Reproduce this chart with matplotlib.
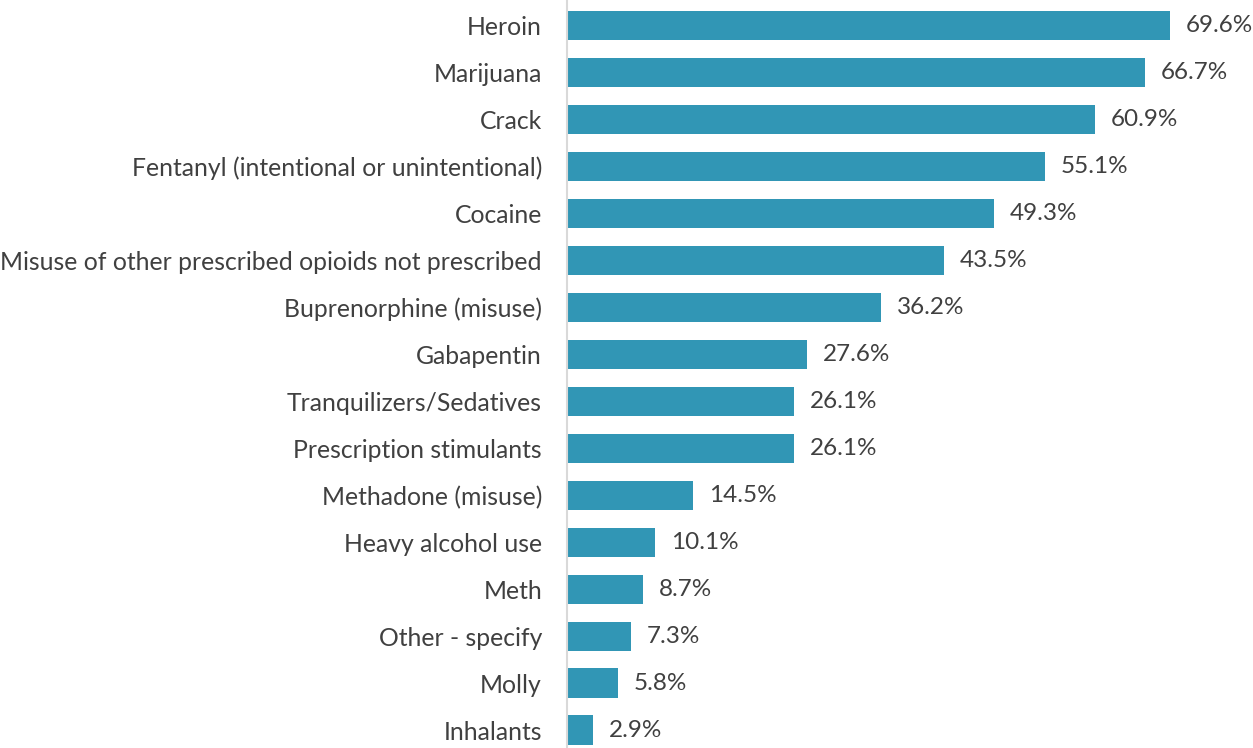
import matplotlib.pyplot as plt

plt.rcParams['font.family'] = ['Lato', 'DejaVu Sans']

# Data
substances = [
    'Heroin', 'Marijuana', 'Crack', 'Fentanyl (intentional or unintentional)',
    'Cocaine', 'Misuse of other prescribed opioids not prescribed',
    'Buprenorphine (misuse)', 'Gabapentin', 'Tranquilizers/Sedatives',
    'Prescription stimulants', 'Methadone (misuse)', 'Heavy alcohol use',
    'Meth', 'Other - specify', 'Molly', 'Inhalants',
]
percent = [69.6, 66.7, 60.9, 55.1, 49.3, 43.5, 36.2, 27.6, 26.1, 26.1,
           14.5, 10.1, 8.7, 7.3, 5.8, 2.9]

bar_color = '#3196b5'
text_color = '#404040'

fig = plt.figure(figsize=(12.53, 7.48), dpi=100)
ax = fig.add_axes([567 / 1253, 0, 686 / 1253, 1])

pos = list(range(len(substances)))
ax.barh(pos, percent, height=0.62, color=bar_color, left=0.1)

for y, v in zip(pos, percent):
    ax.annotate(f'{v:.1f}%', (v, y), xytext=(12, 0), textcoords='offset points',
                va='center', ha='left', fontsize=17.5, color=text_color)

ax.set_yticks(pos)
ax.set_yticklabels(substances, fontsize=17.8, color=text_color)
ax.tick_params(axis='y', length=0, pad=18)
ax.set_xticks([])
ax.set_xlim(0, 79.3)
ax.set_ylim(15.383, -0.543)

for side in ['top', 'right', 'bottom']:
    ax.spines[side].set_visible(False)
ax.spines['left'].set_color('#d9d9d9')
ax.spines['left'].set_linewidth(1.5)

fig.savefig('out.png', dpi=100)
